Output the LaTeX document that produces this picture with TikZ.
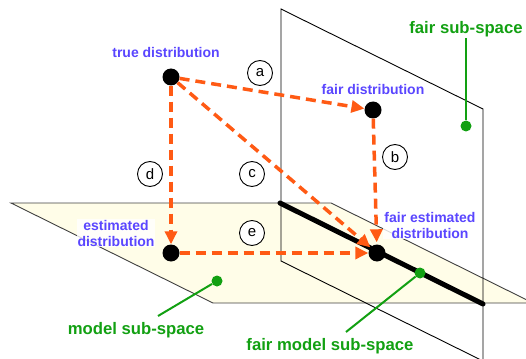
\documentclass[tikz,border=0pt]{standalone}
\usepackage{fontspec}
\setmainfont{Liberation Sans}
\usetikzlibrary{arrows.meta,positioning}
\definecolor{distBlue}{HTML}{5A46FF}
\definecolor{spaceGreen}{HTML}{12A012}
\definecolor{stepOrange}{HTML}{FF5A14}
\definecolor{planeYellow}{HTML}{FFFDE8}

\begin{document}
\begin{tikzpicture}[x=1pt,y=-1pt,
    dist/.style={circle,fill=black,inner sep=0pt,minimum size=17pt},
    distlabel/.style={text=distBlue,font=\bfseries\fontsize{14}{16}\selectfont,
                      align=center,inner sep=1pt},
    stepline/.style={stepOrange,line width=3.5pt,dash pattern=on 10pt off 6pt,
                     -{Triangle[length=13pt,width=12pt]}},
    steptag/.style={circle,draw,fill=white,line width=0.9pt,minimum size=25pt,
                    inner sep=0pt,font=\fontsize{15}{17}\selectfont},
    spacedot/.style={circle,fill=spaceGreen,inner sep=0pt,minimum size=11pt},
    spacelabel/.style={text=spaceGreen,font=\bfseries\fontsize{16.7}{19}\selectfont,
                       inner sep=1pt},
    pointer/.style={spaceGreen,line width=2pt},
    planeedge/.style={line width=0.9pt}
  ]
  \useasboundingbox (0,0) rectangle (526,358);
  \clip (0,0) rectangle (526,358);
  %% Model sub-space (horizontal plane)
  \fill[planeYellow] (11,203) -- (331,203) -- (533,303) -- (213,303) -- cycle;
  \draw[planeedge,black!75] (11,203) -- (331,203) -- (533,303) -- (213,303) -- cycle;
  %% Fair sub-space (vertical plane)
  \draw[planeedge] (281,9) -- (483,109) -- (483,361) -- (281,261) -- cycle;
  %% Fair model sub-space (intersection)
  \coordinate (fm1) at (280,203);
  \coordinate (fm2) at (483,304);
  \draw[line width=5pt,line cap=round] (fm1) -- (fm2);
  %% Distributions
  \node[dist] (true)    at (171,77)  {};
  \node[dist] (fair)    at (373,110) {};
  \node[dist] (est)     at (171,253) {};
  \node[dist] (fairest) at (377,253) {};
  \node[distlabel] (truelab)    at (166,52)  {true distribution};
  \node[distlabel] (fairlab)    at (373,89)  {fair distribution};
  \node[distlabel,fill=white,fill opacity=0.8,text opacity=1] (estlab) at (116,233)
    {estimated\\distribution};
  \node[distlabel,fill=white,fill opacity=0.8,text opacity=1] (fairestlab) at (430,225)
    {fair estimated\\distribution};
  %% Steps between distributions
  \draw[stepline] (true) -- (fair);
  \draw[stepline,shorten >=2pt] (fair) -- (fairest);
  \draw[stepline] (true) -- (fairest);
  \draw[stepline] (true) -- (est);
  \draw[stepline] (est) -- (fairest);
  \node[steptag] (a) at (260,73)  {a};
  \node[steptag] (b) at (395,157) {b};
  \node[steptag] (c) at (252,174) {c};
  \node[steptag] (d) at (150,174) {d};
  \node[steptag] (e) at (252,233) {e};
  %% Sub-space callouts
  \node[spacedot] (fsdot) at (466,126) {};
  \node[spacelabel] (fslab) at (466,29) {fair sub-space};
  \draw[pointer] (fslab) -- (fsdot);
  \node[spacedot] (msdot) at (217,281) {};
  \node[spacelabel] (mslab) at (136,330) {model sub-space};
  \coordinate (msend) at (158,316);
  \draw[pointer] (msend) -- (msdot);
  \node[spacedot] (fmdot) at (420,273) {};
  \node[spacelabel] (fmlab) at (330,346) {fair model sub-space};
  \coordinate (fmend) at (346,332);
  \draw[pointer] (fmend) -- (fmdot);
\end{tikzpicture}
\end{document}
